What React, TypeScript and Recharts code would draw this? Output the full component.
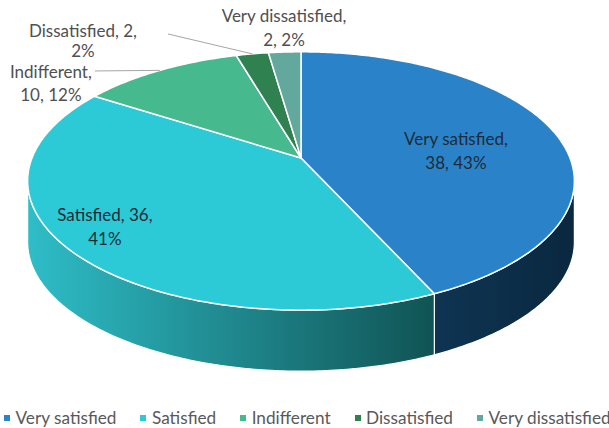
import React from 'react';
import { PieChart, Pie, Legend } from 'recharts';

const categories = ['Very satisfied', 'Satisfied', 'Indifferent', 'Dissatisfied', 'Very dissatisfied'];
const values = [38, 36, 10, 2, 2];
const percentLabels = ['43%', '41%', '12%', '2%', '2%'];

const topColors = ['#2A83C9', '#2BCAD6', '#47B98F', '#2F8150', '#62A89D'];
const sideFrom = ['#1A5A88', '#2EBCC6', '#2F8A68', '#1E5A37', '#3F7A72'];
const sideTo = ['#0A2840', '#06302E', '#1D5A43', '#123E25', '#2A5750'];

// label layout (styling): radial factor, offsets, comma parts on first line, line gap, leader
const labelLayout = [
  { k: 0.6, dx: 3, dy: 7.5, split: 1, gap: 24, inside: true },
  { k: 0.8, dx: -12, dy: -6, split: 2, gap: 24, inside: true },
  { k: 1, dx: -109, dy: 13.1, split: 1, gap: 23, leader: { sx: 44, sy: -12.5 } },
  { k: 1, dx: -169.3, dy: -12.9, split: 2, gap: 20, leader: { sx: 85, sy: -7 } },
  { k: 1, dx: -0.7, dy: -24.5, split: 1, gap: 24 },
];

const data = categories.map((name, i) => ({
  name,
  value: values[i],
  pct: percentLabels[i],
  fill: topColors[i],
  sideFrom: sideFrom[i],
  sideTo: sideTo[i],
  idx: i,
}));

const FONT = 'Lato, "Noto Sans", sans-serif';
const RATIO = 0.465; // vertical squash of the tilted disc
const PERSP = 0.178; // perspective strength
const DEPTH = 61;
const RAD = Math.PI / 180;

// perspective projection of a point of the tilted disc at polar angle a
const pt = (cx: number, cy: number, rx: number, ry: number, a: number, k = 1) => {
  const c = Math.cos(a * RAD);
  const s = Math.sin(a * RAD);
  const w = 1 + PERSP * s;
  return [cx + (k * rx * c) / w, cy - (k * ry * s) / w];
};

const arcPoints = (cx: number, cy: number, rx: number, ry: number, from: number, to: number) => {
  const n = Math.max(2, Math.ceil(Math.abs(from - to) / 0.75));
  const pts: number[][] = [];
  for (let i = 0; i <= n; i++) {
    pts.push(pt(cx, cy, rx, ry, from + ((to - from) * i) / n));
  }
  return pts;
};

const SIL = Math.asin(PERSP) / RAD; // silhouette angle offset

function Slice3D(props: any) {
  const { cx, cy, outerRadius, startAngle, endAngle, fill } = props;
  const rx = outerRadius;
  const ry = outerRadius * RATIO;
  const hi = Math.max(startAngle, endAngle);
  const lo = Math.min(startAngle, endAngle);
  const topPts = arcPoints(cx, cy, rx, ry, hi, lo);
  const top = `M${cx},${cy} ` + topPts.map((p) => `L${p[0].toFixed(2)},${p[1].toFixed(2)}`).join(' ') + ' Z';

  const sides: string[] = [];
  for (const off of [0, -360, 360]) {
    const fa = -180 + SIL + off;
    const fb = -SIL + off;
    const a1 = Math.min(hi, fb);
    const a2 = Math.max(lo, fa);
    if (a1 > a2) {
      const up = arcPoints(cx, cy, rx, ry, a1, a2);
      const down = up.slice().reverse().map((p) => [p[0], p[1] + DEPTH]);
      const all = up.concat(down);
      sides.push('M' + all.map((p) => `${p[0].toFixed(2)},${p[1].toFixed(2)}`).join(' L') + ' Z');
    }
  }
  const gid = `side-grad-${props.idx}`;
  return (
    <g>
      <defs>
        <linearGradient id={gid} gradientUnits="userSpaceOnUse" x1={cx - rx} y1={0} x2={cx + rx} y2={0}>
          <stop offset="0" stopColor={props.sideFrom} />
          <stop offset="1" stopColor={props.sideTo} />
        </linearGradient>
      </defs>
      {sides.map((d, i) => (
        <path key={i} d={d} fill={`url(#${gid})`} stroke="#ffffff" strokeWidth={1.2} strokeLinejoin="round" />
      ))}
      <path d={top} fill={fill} stroke="#ffffff" strokeWidth={1.5} strokeLinejoin="round" />
    </g>
  );
}

function renderLabel(props: any) {
  const { cx, cy, outerRadius, midAngle, name, value, pct, idx } = props;
  const lay = labelLayout[idx];
  const rx = outerRadius;
  const ry = outerRadius * RATIO;
  const [ax, ay] = pt(cx, cy, rx, ry, midAngle, lay.k);
  const X = ax + lay.dx;
  const Y = ay + lay.dy;
  const parts = [name, String(value), pct];
  const line1 = parts.slice(0, lay.split).join(', ') + ',';
  const line2 = parts.slice(lay.split).join(', ');
  const color = lay.inside ? '#1E2B38' : '#505050';
  let leader = null;
  if (lay.leader) {
    const [lx, ly] = pt(cx, cy, rx, ry, midAngle);
    leader = (
      <line x1={X + lay.leader.sx} y1={Y + lay.leader.sy} x2={lx} y2={ly} stroke="#A6A6A6" strokeWidth={1} />
    );
  }
  const h = lay.gap / 2;
  return (
    <g key={`lbl-${idx}`}>
      {leader}
      <text x={X} y={Y - h} textAnchor="middle" dominantBaseline="central" fill={color} style={{ fontFamily: FONT, fontSize: 17 }}>
        {line1}
      </text>
      <text x={X} y={Y + h} textAnchor="middle" dominantBaseline="central" fill={color} style={{ fontFamily: FONT, fontSize: 17 }}>
        {line2}
      </text>
    </g>
  );
}

function renderLegend(props: any) {
  const payload = (props.payload || [])
    .slice()
    .sort((a: any, b: any) => categories.indexOf(a.value) - categories.indexOf(b.value));
  return (
    <div style={{ display: 'flex', whiteSpace: 'nowrap', fontFamily: FONT, fontSize: 17.2, lineHeight: '18px', color: '#595959', alignItems: 'center' }}>
      {payload.map((p: any, i: number) => (
        <div key={i} style={{ display: 'flex', alignItems: 'center', marginRight: 24, flexShrink: 0 }}>
          <span style={{ display: 'inline-block', width: 6, height: 6, background: p.color, marginRight: 5.5 }} />
          <span>{p.value}</span>
        </div>
      ))}
    </div>
  );
}

export default function App() {
  return (
    <div style={{ position: 'absolute', left: 0, top: 0, width: 609, height: 428, overflow: 'hidden', background: '#ffffff' }}>
      <PieChart width={609} height={428} margin={{ top: 0, right: 0, bottom: 0, left: 0 }}>
        <Pie
          data={data}
          dataKey="value"
          nameKey="name"
          cx={301}
          cy={158}
          outerRadius={269}
          startAngle={90}
          endAngle={-270}
          isAnimationActive={false}
          shape={Slice3D as any}
          label={renderLabel}
          labelLine={false}
          stroke="none"
        />
        <Legend
          content={renderLegend}
          itemSorter={null as any}
          wrapperStyle={{ position: 'absolute', left: 4, top: 409, width: 800, height: 18 }}
        />
      </PieChart>
    </div>
  );
}
